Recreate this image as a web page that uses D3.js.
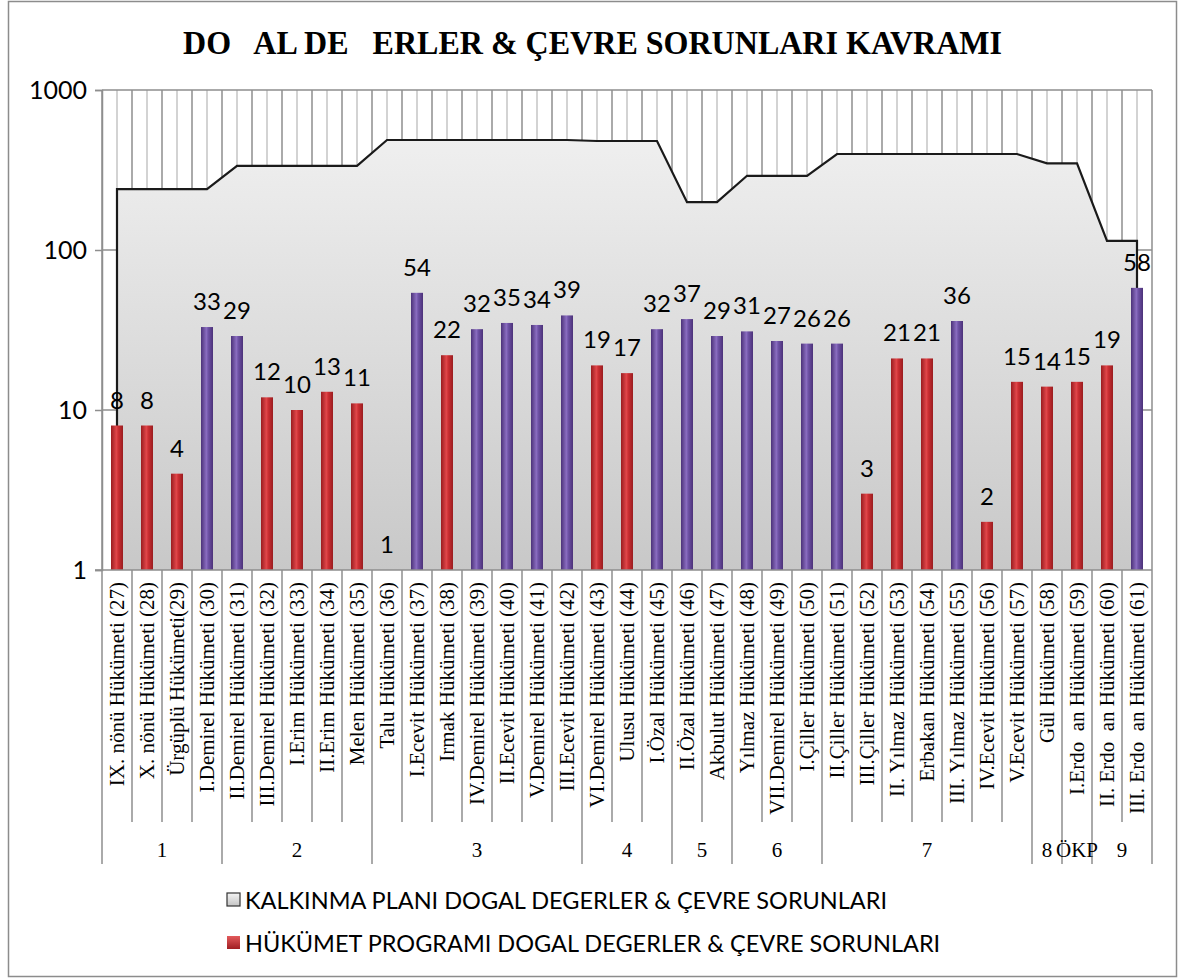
<!DOCTYPE html>
<html>
<head>
<meta charset="utf-8">
<script src="https://cdn.jsdelivr.net/npm/d3@7"></script>
<style>
  html, body { margin: 0; padding: 0; background: #fff; }
  svg { display: block; }
</style>
</head>
<body>
<svg id="chart" width="1179" height="979"></svg>
<script>
// ---------------- DATA ----------------
const chartTitle = "DO   AL DE   ERLER & ÇEVRE SORUNLARI KAVRAMI";
const categories = [
  "IX. nönü Hükümeti (27)", "X. nönü Hükümeti (28)", "Ürgüplü Hükümeti(29)", "I.Demirel Hükümeti (30)",
  "II.Demirel Hükümeti (31)", "III.Demirel Hükümeti (32)", "I.Erim Hükümeti (33)", "II.Erim Hükümeti (34)",
  "Melen Hükümeti (35)", "Talu Hükümeti (36)", "I.Ecevit Hükümeti (37)", "Irmak Hükümeti (38)",
  "IV.Demirel Hükümeti (39)", "II.Ecevit Hükümeti (40)", "V.Demirel Hükümeti (41)", "III.Ecevit Hükümeti (42)",
  "VI.Demirel Hükümeti (43)", "Ulusu Hükümeti (44)", "I.Özal Hükümeti (45)", "II.Özal Hükümeti (46)",
  "Akbulut Hükümeti (47)", "Yılmaz Hükümeti (48)", "VII.Demirel Hükümeti (49)", "I.Çiller Hükümeti (50)",
  "II.Çiller Hükümeti (51)", "III.Çiller Hükümeti (52)", "II. Yılmaz Hükümeti (53)", "Erbakan Hükümeti (54)",
  "III. Yılmaz Hükümeti (55)", "IV.Ecevit Hükümeti (56)", "V.Ecevit Hükümeti (57)", "Gül Hükümeti (58)",
  "I.Erdo  an Hükümeti (59)", "II. Erdo  an Hükümeti (60)", "III. Erdo  an Hükümeti (61)"
];
// HÜKÜMET PROGRAMI (bars)
const programValues = [8, 8, 4, 33, 29, 12, 10, 13, 11, 1, 54, 22, 32, 35, 34, 39, 19, 17, 32, 37,
  29, 31, 27, 26, 26, 3, 21, 21, 36, 2, 15, 14, 15, 19, 58];
// KALKINMA PLANI (area)
const planValues = [240, 240, 240, 240, 336, 336, 336, 336, 336, 487, 487, 487, 487, 487, 487, 487,
  480, 480, 480, 199, 199, 291, 291, 291, 398, 398, 398, 398, 398, 398, 398, 348, 348, 114, 114];
// Plan-period groups on the category axis
const groupLabels = ["1", "2", "3", "4", "5", "6", "7", "8", "ÖKP", "9"];
const groupSizes  = [4, 5, 7, 3, 2, 3, 7, 1, 1, 2];
const yTicks = [1, 10, 100, 1000];
const seriesNames = ["KALKINMA PLANI DOGAL DEGERLER & ÇEVRE SORUNLARI",
                     "HÜKÜMET PROGRAMI DOGAL DEGERLER & ÇEVRE SORUNLARI"];

// ---------------- LAYOUT ----------------
const plot = { left: 102, right: 1152, top: 90, bottom: 570 };
const SANS = "Lato, 'Open Sans', sans-serif";
const SERIF = "'Liberation Serif', 'DejaVu Serif', serif";

const svg = d3.select("#chart");
const defs = svg.append("defs");

// gradients
const areaGrad = defs.append("linearGradient").attr("id", "areaGrad")
  .attr("x1", 0).attr("y1", 0).attr("x2", 0).attr("y2", 1);
areaGrad.append("stop").attr("offset", "0%").attr("stop-color", "#efefef");
areaGrad.append("stop").attr("offset", "100%").attr("stop-color", "#c8c8c8");

function barGradient(id, edge, mid, light) {
  const g = defs.append("linearGradient").attr("id", id)
    .attr("x1", 0).attr("y1", 0).attr("x2", 1).attr("y2", 0);
  g.append("stop").attr("offset", "0%").attr("stop-color", edge);
  g.append("stop").attr("offset", "45%").attr("stop-color", light);
  g.append("stop").attr("offset", "60%").attr("stop-color", mid);
  g.append("stop").attr("offset", "100%").attr("stop-color", edge);
}
barGradient("redGrad", "#9a1c1f", "#cc2f33", "#e0474a");
barGradient("purpleGrad", "#4c3279", "#6f52a6", "#8a6dc0");

const legGrad = defs.append("linearGradient").attr("id", "legGrad")
  .attr("x1", 0).attr("y1", 0).attr("x2", 0).attr("y2", 1);
legGrad.append("stop").attr("offset", "0%").attr("stop-color", "#f4f4f4");
legGrad.append("stop").attr("offset", "100%").attr("stop-color", "#c4c4c4");
const legRed = defs.append("linearGradient").attr("id", "legRed")
  .attr("x1", 0).attr("y1", 0).attr("x2", 0).attr("y2", 1);
legRed.append("stop").attr("offset", "0%").attr("stop-color", "#e35a5c");
legRed.append("stop").attr("offset", "100%").attr("stop-color", "#a01e22");

// outer border
svg.append("rect").attr("x", 8.5).attr("y", 1.5).attr("width", 1168).attr("height", 975)
  .attr("fill", "#fff").attr("stroke", "#8c8c8c").attr("stroke-width", 1.5);

// scales
const x = d3.scaleBand().domain(categories).range([plot.left, plot.right]).padding(0);
const y = d3.scaleLog().domain([1, 1000]).range([plot.bottom, plot.top]);
const cx = c => x(c) + x.bandwidth() / 2;

// title
svg.append("text")
  .attr("x", (183 + 1002) / 2).attr("y", 54)
  .attr("text-anchor", "middle")
  .attr("font-family", SERIF).attr("font-weight", "bold").attr("font-size", 33)
  .attr("textLength", 819).attr("lengthAdjust", "spacingAndGlyphs")
  .attr("xml:space", "preserve").style("white-space", "pre")
  .text(chartTitle);

// vertical hatch gridlines (category boundaries darker, centres lighter)
const gGrid = svg.append("g");
const boundaries = categories.map(c => x(c)).concat([plot.right]);
gGrid.selectAll("line.vb").data(boundaries).join("line")
  .attr("x1", d => d).attr("x2", d => d).attr("y1", plot.top).attr("y2", plot.bottom)
  .attr("stroke", "#8e8e8e").attr("stroke-width", 1.5);
gGrid.selectAll("line.vc").data(categories).join("line")
  .attr("x1", d => cx(d)).attr("x2", d => cx(d)).attr("y1", plot.top).attr("y2", plot.bottom)
  .attr("stroke", "#c4c4c4").attr("stroke-width", 1.5);
// horizontal gridlines
gGrid.selectAll("line.h").data(yTicks.filter(t => t > 1)).join("line")
  .attr("x1", plot.left).attr("x2", plot.right).attr("y1", d => y(d)).attr("y2", d => y(d))
  .attr("stroke", "#8e8e8e").attr("stroke-width", 1.5);

// area series
const planData = categories.map((c, i) => ({ c, v: planValues[i] }));
const area = d3.area().x(d => cx(d.c)).y0(y(1)).y1(d => y(d.v));
svg.append("path").datum(planData).attr("d", area).attr("fill", "url(#areaGrad)");
const outline = d3.line().x(d => d.x).y(d => d.y);
const outlinePts = [{ x: cx(categories[0]), y: y(1) }]
  .concat(planData.map(d => ({ x: cx(d.c), y: y(d.v) })))
  .concat([{ x: cx(categories[categories.length - 1]), y: y(1) }]);
svg.append("path").attr("d", outline(outlinePts)).attr("fill", "none")
  .attr("stroke", "#1a1a1a").attr("stroke-width", 2.2).attr("stroke-linejoin", "miter");

// bars
const barW = 12;
const progData = categories.map((c, i) => ({ c, v: programValues[i] }));
svg.append("g").selectAll("rect").data(progData.filter(d => d.v > 1)).join("rect")
  .attr("x", d => cx(d.c) - barW / 2).attr("width", barW)
  .attr("y", d => y(d.v)).attr("height", d => y(1) - y(d.v))
  .attr("fill", d => d.v >= 25 ? "url(#purpleGrad)" : "url(#redGrad)");

// data labels
svg.append("g").selectAll("text").data(progData).join("text")
  .attr("x", d => cx(d.c)).attr("y", d => y(d.v) - 17)
  .attr("text-anchor", "middle").attr("font-family", SANS).attr("font-size", 24)
  .attr("fill", "#000").text(d => d.v);

// y axis
const yAxis = svg.append("g").attr("transform", `translate(${plot.left},0)`)
  .call(d3.axisLeft(y).tickValues(yTicks).tickFormat(d3.format("d")).tickSize(7).tickPadding(8));
yAxis.select(".domain").attr("stroke", "#8e8e8e").attr("stroke-width", 1.5);
yAxis.selectAll(".tick line").attr("stroke", "#8e8e8e").attr("stroke-width", 1.5);
yAxis.selectAll(".tick text").attr("font-family", SANS).attr("font-size", 25).attr("fill", "#000");

// x axis line
svg.append("line").attr("x1", plot.left - 7).attr("x2", plot.right)
  .attr("y1", plot.bottom).attr("y2", plot.bottom)
  .attr("stroke", "#8e8e8e").attr("stroke-width", 1.5);

// category separators (label row)
svg.append("g").selectAll("line").data(boundaries).join("line")
  .attr("x1", d => d).attr("x2", d => d).attr("y1", plot.bottom).attr("y2", 822)
  .attr("stroke", "#8e8e8e").attr("stroke-width", 1.5);

// category labels (rotated)
svg.append("g").selectAll("text").data(categories).join("text")
  .attr("transform", d => `translate(${cx(d) + 7},582) rotate(-90)`)
  .attr("text-anchor", "end")
  .attr("font-family", SERIF).attr("font-size", 21).attr("fill", "#000")
  .attr("xml:space", "preserve").style("white-space", "pre")
  .text(d => d);

// group separators and labels
let start = 0;
const groups = groupLabels.map((g, i) => {
  const s = start; start += groupSizes[i];
  return { label: g, first: categories[s], last: categories[start - 1] };
});
const groupEdges = groups.map(g => x(g.first)).concat([plot.right]);
svg.append("g").selectAll("line").data(groupEdges).join("line")
  .attr("x1", d => d).attr("x2", d => d).attr("y1", 822).attr("y2", 864)
  .attr("stroke", "#8e8e8e").attr("stroke-width", 1.5);
svg.append("g").selectAll("text").data(groups).join("text")
  .attr("x", g => (x(g.first) + x(g.last) + x.bandwidth()) / 2).attr("y", 857)
  .attr("text-anchor", "middle").attr("font-family", SERIF).attr("font-size", 21)
  .attr("fill", "#000").text(g => g.label);

// legend
const legend = svg.append("g");
const legY = [900, 943];
seriesNames.forEach((name, i) => {
  legend.append("rect").attr("x", 227).attr("y", legY[i] - 7).attr("width", 13).attr("height", 13)
    .attr("fill", i === 0 ? "url(#legGrad)" : "url(#legRed)")
    .attr("stroke", i === 0 ? "#333" : "none").attr("stroke-width", 1.2);
  legend.append("text").attr("x", 245).attr("y", legY[i] + 9)
    .attr("font-family", SANS).attr("font-size", 23.5).attr("fill", "#000").text(name);
});
</script>
</body>
</html>
